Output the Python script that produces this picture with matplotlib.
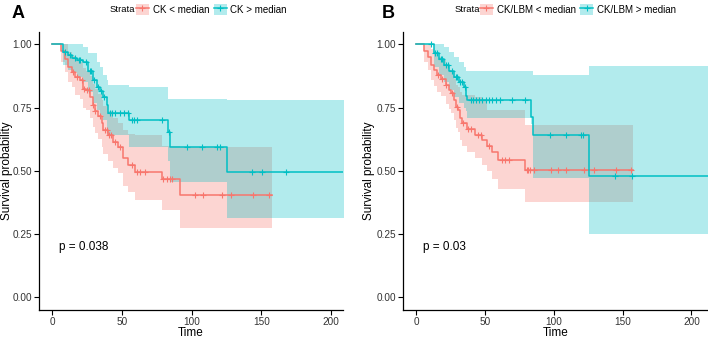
import numpy as np
import matplotlib
matplotlib.use("Agg")
from matplotlib import pyplot as plt
from matplotlib.patches import Patch
from matplotlib.lines import Line2D

plt.rcParams['font.family'] = ['Liberation Sans', 'DejaVu Sans']

RED = "#F8766D"
TEAL = "#00BFC4"

# ---- panel A: CK ----
a_lo_t = [0, 6.2, 9.1, 11.5, 13.9, 16.3, 19.9, 22.2, 24.2, 27.0, 28.9, 30.6, 33.0, 35.4, 36.6,
          40.2, 43.8, 47.3, 50.9, 54.5, 59.3, 78.9, 91.6, 157.4]
a_lo_s = [1.0, 0.975, 0.942, 0.909, 0.890, 0.870, 0.858, 0.825, 0.818, 0.792, 0.759, 0.737, 0.717,
          0.688, 0.660, 0.641, 0.614, 0.594, 0.549, 0.522, 0.496, 0.466, 0.404, 0.404]
a_lo_up = [1.0, 1.0, 1.0, 0.97, 0.955, 0.94, 0.93, 0.905, 0.895, 0.875, 0.845, 0.825, 0.805,
           0.78, 0.755, 0.735, 0.71, 0.69, 0.66, 0.645, 0.641, 0.60, 0.594, 0.594]
a_lo_low = [1.0, 0.93, 0.89, 0.85, 0.83, 0.80, 0.785, 0.75, 0.74, 0.71, 0.675, 0.65, 0.625,
            0.595, 0.565, 0.54, 0.51, 0.49, 0.44, 0.415, 0.386, 0.347, 0.274, 0.274]
a_lo_cens = [15, 18, 21, 23, 25, 26, 29.5, 31, 34, 38, 39, 41, 42, 45, 48.5, 57, 60.9, 62.6, 66.5,
             79.7, 82, 84.4, 86.2, 102.4, 108.3, 121.5, 128, 144.2, 155.7]

a_hi_t = [0, 7.9, 11.5, 14.0, 18.0, 22.2, 25.9, 29.5, 31.8, 34.2, 36.6, 39.0, 40.2, 55.2, 82.8,
          84.4, 125.1, 215]
a_hi_s = [1.0, 0.969, 0.958, 0.948, 0.938, 0.929, 0.896, 0.858, 0.831, 0.817, 0.791, 0.759,
          0.730, 0.700, 0.654, 0.594, 0.496, 0.496]
a_hi_up = [1.0, 1.0, 1.0, 1.0, 1.0, 0.99, 0.965, 0.965, 0.93, 0.91, 0.88, 0.86, 0.84, 0.83,
           0.785, 0.785, 0.782, 0.782]
a_hi_low = [1.0, 0.92, 0.90, 0.89, 0.87, 0.85, 0.81, 0.77, 0.74, 0.72, 0.70, 0.67, 0.641, 0.594,
            0.54, 0.457, 0.315, 0.315]
a_hi_cens = [9, 13, 16, 19, 20, 24, 27, 28, 30, 33, 35, 37, 41.4, 43, 45, 48.6, 51.4, 54.6, 57,
             58.6, 61, 78.5, 83.6, 96.4, 107.6, 118.4, 120.3, 143, 150.2, 167.6]

# ---- panel B: CK/LBM ----
b_lo_t = [0, 5.8, 8.7, 11.1, 13.1, 15.0, 17.9, 21.5, 24.0, 25.2, 27.6, 28.8, 30.5, 31.9, 33.6,
          36.8, 42.8, 48.1, 51.3, 55.0, 59.8, 79.2, 157.8]
b_lo_s = [1.0, 0.975, 0.950, 0.917, 0.898, 0.878, 0.865, 0.840, 0.820, 0.807, 0.780, 0.753,
          0.739, 0.708, 0.688, 0.667, 0.641, 0.621, 0.600, 0.575, 0.543, 0.505, 0.505]
b_lo_up = [1.0, 1.0, 1.0, 0.98, 0.965, 0.95, 0.94, 0.92, 0.90, 0.89, 0.865, 0.84, 0.83, 0.81,
           0.80, 0.80, 0.79, 0.785, 0.739, 0.739, 0.739, 0.683, 0.683]
b_lo_low = [1.0, 0.93, 0.90, 0.86, 0.835, 0.81, 0.795, 0.765, 0.745, 0.73, 0.70, 0.67, 0.655,
            0.62, 0.60, 0.575, 0.55, 0.525, 0.50, 0.467, 0.428, 0.378, 0.378]
b_lo_cens = [16, 19, 22, 26, 29.5, 34, 38, 40, 45, 47, 53, 62.5, 64.9, 67.4, 80.4, 81.3, 82.8,
             85.7, 97.8, 103.1, 108.7, 122, 129.3, 145, 155.9]

b_hi_t = [0, 13.1, 16.7, 20.3, 24.0, 27.6, 31.2, 34.9, 36.1, 37.3, 83.3, 85.2, 125.5, 215]
b_hi_s = [1.0, 0.965, 0.943, 0.917, 0.896, 0.870, 0.850, 0.831, 0.797, 0.781, 0.713, 0.641,
          0.480, 0.480]
b_hi_up = [1.0, 1.0, 1.0, 0.99, 0.97, 0.95, 0.93, 0.91, 0.896, 0.896, 0.896, 0.877, 0.916, 0.916]
b_hi_low = [1.0, 0.91, 0.88, 0.85, 0.82, 0.79, 0.77, 0.75, 0.735, 0.71, 0.687, 0.471, 0.251,
            0.251]
b_hi_cens = [10.7, 14, 15.5, 18, 19, 22, 23, 26, 29, 30, 32, 33, 35.5, 39.6, 41.3, 43.3, 45.7,
             48.1, 50.6, 53, 55.4, 57.8, 60.8, 70, 79, 97.3, 109.2, 119.6, 121.5, 144.3, 157.1]


def draw_km(ax, t, s, up, low, cens, color):
    t = np.array(t)
    s = np.array(s)
    ax.fill_between(t, low, up, step='post', color=color, alpha=0.3, lw=0)
    ax.step(t, s, where='post', color=color, lw=1.1)
    idx = np.searchsorted(t, cens, side='right') - 1
    ax.plot(cens, s[idx], ls='none', marker='+', ms=5, mew=0.8, color=color)


def style_axes(ax, xmin, xmax, ylab_x):
    ax.set_xlim(xmin, xmax)
    ax.set_ylim(-0.05, 1.05)
    ax.set_xticks([0, 50, 100, 150, 200])
    ax.set_yticks([0, 0.25, 0.5, 0.75, 1.0])
    ax.set_yticklabels(["0.00", "0.25", "0.50", "0.75", "1.00"])
    ax.spines['top'].set_visible(False)
    ax.spines['right'].set_visible(False)
    for sp in ['left', 'bottom']:
        ax.spines[sp].set_linewidth(0.9)
    ax.tick_params(labelsize=7.2, length=3.3, width=0.8, pad=1.5, colors='black',
                   labelcolor='#333333')
    ax.set_xlabel("Time", fontsize=8.5, labelpad=0)
    ax.set_ylabel("Survival probability", fontsize=8.5)
    # place y label in figure pixels, close to the edge as in the reference
    ax.yaxis.set_label_coords(ylab_x / 708, 0.5 * (0.0828 * 2 + 0.8234), transform=fig.transFigure)


fig = plt.figure(figsize=(7.08, 3.38), dpi=100)

axA = fig.add_axes([0.0551, 0.0828, 0.4290, 0.8234])
draw_km(axA, a_lo_t, a_lo_s, a_lo_up, a_lo_low, a_lo_cens, RED)
draw_km(axA, a_hi_t, a_hi_s, a_hi_up, a_hi_low, a_hi_cens, TEAL)
style_axes(axA, -9.5, 208.3, 13)
axA.text(5, 0.2, "p = 0.038", fontsize=8.5, va='center')

axB = fig.add_axes([0.5688, 0.0828, 0.4312, 0.8234])
draw_km(axB, b_lo_t, b_lo_s, b_lo_up, b_lo_low, b_lo_cens, RED)
draw_km(axB, b_hi_t, b_hi_s, b_hi_up, b_hi_low, b_hi_cens, TEAL)
style_axes(axB, -9.7, 212, 375)
axB.text(5, 0.2, "p = 0.03", fontsize=8.5, va='center')

# panel letters
fig.text(12 / 708, 1 - 14 / 338, "A", fontsize=13, fontweight='bold', va='center')
fig.text(382 / 708, 1 - 14 / 338, "B", fontsize=13, fontweight='bold', va='center')


def key(color):
    return (Patch(facecolor=color, alpha=0.3, lw=0),
            Line2D([], [], color=color, lw=1.1, marker='+', ms=5, mew=0.8))


def strata_legend(ax, x_strata, x_leg, labels):
    fig.text(x_strata / 708, 1 - 9.5 / 338, "Strata", fontsize=6.8, va='center')
    leg = ax.legend([key(RED), key(TEAL)], labels, ncol=2, loc='center left',
                    bbox_to_anchor=(x_leg / 708, 1 - 9.5 / 338), bbox_transform=fig.transFigure,
                    frameon=False, fontsize=7, handlelength=1.3, handleheight=1.3,
                    handletextpad=0.4, columnspacing=0.5, borderpad=0, borderaxespad=0)
    return leg


strata_legend(axA, 110, 136, ["CK < median", "CK > median"])
strata_legend(axB, 455, 480, ["CK/LBM < median", "CK/LBM > median"])

plt.savefig("out.png", dpi=100)
